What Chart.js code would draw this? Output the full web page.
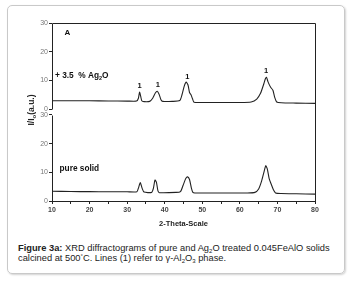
<!DOCTYPE html>
<html><head><meta charset="utf-8">
<script src="https://cdn.jsdelivr.net/npm/chart.js@4/dist/chart.umd.min.js"></script>
<style>
html,body{margin:0;padding:0;background:#fff;width:355px;height:281px;overflow:hidden;font-family:"Liberation Sans",Arial,sans-serif;}
#box{position:absolute;left:7px;top:5px;width:336px;height:267px;border:1px solid #c9c9c9;border-radius:5px;box-shadow:1px 1px 2px rgba(0,0,0,0.18);}
#cv{position:absolute;left:0;top:0;}
#ylab{position:absolute;left:1px;top:104px;width:60px;height:12px;line-height:12px;text-align:center;transform:rotate(-90deg);font-weight:bold;font-size:8.5px;color:#222;white-space:nowrap;}
#ylab sub{font-size:6px;vertical-align:-2px;line-height:0;}
#cap{position:absolute;left:18px;top:243px;width:330px;font-size:9.3px;line-height:10px;color:#222;white-space:nowrap;}
#cap sub{font-size:6px;vertical-align:-2px;line-height:0;}
#cap sup{font-size:6px;vertical-align:3px;line-height:0;}
</style></head><body>
<div id="box"></div>
<canvas id="cv" width="355" height="235"></canvas>
<div id="ylab">I/I<sub>o</sub>(a.u.)</div>
<div id="cap"><b>Figure 3a:</b> XRD diffractograms of pure and Ag<sub>2</sub>O treated 0.045FeAlO solids<br>calcined at 500<sup>°</sup>C. Lines (1) refer to γ-Al<sub>2</sub>O<sub>3</sub> phase.</div>
<script>
// ---- data ----
const topTheta = [10,15,20,25,30,32.5,33.0,33.3,33.6,33.9,34.5,36.0,36.8,37.5,38.0,38.5,39.0,39.5,42,44.0,44.6,45.2,45.7,46.2,46.6,47.0,47.4,47.8,50,55,60,63,64.5,65.5,66.3,66.8,67.1,67.5,68.2,68.8,69.3,69.8,71,75,80];
const topI     = [2.9,2.9,2.9,2.85,2.8,2.8,3.8,5.9,4.5,2.9,2.6,2.7,3.8,5.6,6.2,5.2,3.3,2.7,2.7,3.0,5.0,8.0,9.4,8.4,5.8,5.0,3.6,2.4,2.3,2.3,2.3,2.5,3.5,5.5,8.5,10.6,11.1,9.5,7.6,6.6,4.0,2.5,2.2,2.1,2.0];
const botTheta = [10,15,20,25,30,32.6,33.0,33.5,34.0,34.5,36.5,37.0,37.4,37.8,38.2,38.6,43,44.2,44.9,45.6,46.1,46.6,47.1,47.5,48,55,62,64,65,65.8,66.5,66.9,67.3,67.8,68.3,68.9,69.5,71,75,80];
const botI     = [3.4,3.3,3.25,3.2,3.2,3.2,4.5,6.4,4.4,3.1,3.0,4.5,7.3,6.5,3.5,2.9,3.0,3.3,5.5,7.8,8.4,7.5,4.5,3.0,2.8,2.8,2.8,3.0,4.2,7.0,10.5,12.3,11.2,7.8,6.0,4.0,2.8,2.6,2.5,2.4];
const xTicks = [10,15,20,25,30,35,40,45,50,55,60,65,70,75,80];
const yTicks = [0,5,10,15,20,25,30];
const peakLabelsTop = [{t:'1',x:33.3,y:8.0},{t:'1',x:38.2,y:8.3},{t:'1',x:46.0,y:11.1},{t:'1',x:67.0,y:13.3}];

const toXY = (xs, ys) => xs.map((x,i)=>({x:x, y:ys[i]}));

const yAxisCommon = {
  type:'linear', position:'left', stack:'panels', stackWeight:1,
  border:{display:false},
  grid:{display:true, drawOnChartArea:false, drawTicks:true, tickLength:3, color:'#222'},
  ticks:{font:{size:7, family:'Liberation Sans'}, color:'#777', padding:1,
         callback:(v)=> (v%10===0 ? String(v) : '')},
  afterBuildTicks:(s)=>{ s.ticks = yTicks.map(v=>({value:v})); },
  afterFit:(s)=>{ s.width = 52; }
};

const framePlugin = {
  id:'frame',
  afterDraw(chart){
    const {ctx, chartArea:a, scales} = chart;
    const t = scales.yTop, b = scales.yBot;
    const L = Math.round(a.left)+0.5, R = Math.round(a.right)+0.5;
    const t30 = Math.round(t.getPixelForValue(30))+0.5, t0 = Math.round(t.getPixelForValue(0))+0.5;
    const b30 = Math.round(b.getPixelForValue(30))+0.5, b0 = Math.round(b.getPixelForValue(0))+0.5;
    ctx.save();
    ctx.strokeStyle='#222'; ctx.lineWidth=1;
    ctx.beginPath();
    ctx.moveTo(L,t0); ctx.lineTo(L,t30); ctx.lineTo(R,t30); ctx.lineTo(R,b0);
    ctx.moveTo(L,b30); ctx.lineTo(L,b0); ctx.lineTo(R,b0);
    ctx.stroke();
    // annotations
    const x = scales.x;
    ctx.fillStyle='#111';
    ctx.textBaseline='middle';
    ctx.textAlign='center';
    ctx.font='bold 7.5px "Liberation Sans"';
    peakLabelsTop.forEach(p=>{ ctx.fillText(p.t, x.getPixelForValue(p.x), t.getPixelForValue(p.y)); });
    ctx.textAlign='left';
    ctx.font='bold 8px "Liberation Sans"';
    ctx.fillText('A', x.getPixelForValue(13.3), t.getPixelForValue(26.6));
    // + 3.5 % Ag2O
    let px = x.getPixelForValue(10.8), py = t.getPixelForValue(11.5);
    ctx.font='bold 8.3px "Liberation Sans"';
    const s1 = '+ 3.5  % Ag';
    ctx.fillText(s1, px, py); px += ctx.measureText(s1).width;
    ctx.font='bold 5.5px "Liberation Sans"';
    ctx.fillText('2', px, py+2.5); px += ctx.measureText('2').width;
    ctx.font='bold 8.3px "Liberation Sans"';
    ctx.fillText('O', px, py);
    ctx.fillText('pure solid', x.getPixelForValue(12.0), b.getPixelForValue(11.2));
    ctx.restore();
  }
};

new Chart(document.getElementById('cv'), {
  type:'scatter',
  data:{datasets:[
    {data:toXY(topTheta, topI), yAxisID:'yTop', showLine:true, pointRadius:0, borderColor:'#222', borderWidth:1.1, tension:0.2},
    {data:toXY(botTheta, botI), yAxisID:'yBot', showLine:true, pointRadius:0, borderColor:'#222', borderWidth:1.1, tension:0.2}
  ]},
  options:{
    responsive:false, animation:false,
    layout:{padding:{left:0, right:40, top:23, bottom:0}},
    plugins:{legend:{display:false}, tooltip:{enabled:false}},
    scales:{
      yBot: Object.assign({}, yAxisCommon, {min:0, max:31}),
      yTop: Object.assign({}, yAxisCommon, {min:-1, max:30}),
      x:{type:'linear', position:'bottom', min:10, max:80,
         border:{display:false},
         grid:{display:true, drawOnChartArea:false, drawTicks:true, tickLength:3, color:'#222'},
         ticks:{font:{size:7, weight:'bold', family:'Liberation Sans'}, color:'#444', padding:2, maxRotation:0, autoSkip:false,
                callback:(v)=> (v%10===0 ? String(v) : '')},
         afterBuildTicks:(s)=>{ s.ticks = xTicks.map(v=>({value:v})); },
         afterFit:(s)=>{ s.height = 34; },
         title:{display:true, text:'2-Theta-Scale', font:{size:7.5, weight:'bold', family:'Liberation Sans'}, color:'#222', padding:{top:0,bottom:7}}
      }
    }
  },
  plugins:[framePlugin]
});
</script>
</body></html>
